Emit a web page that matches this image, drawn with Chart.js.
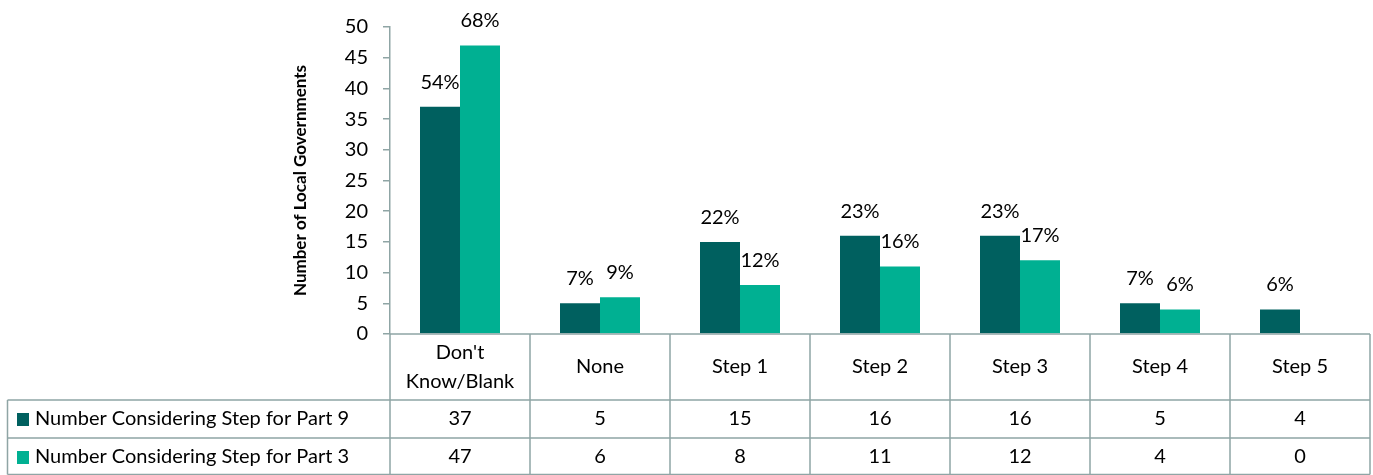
<!DOCTYPE html>
<html>
<head>
<meta charset="utf-8">
<script src="https://cdn.jsdelivr.net/npm/chart.js@4.4.0/dist/chart.umd.min.js"></script>
<style>
  html, body { margin: 0; padding: 0; background: #fff; }
  #wrap { width: 1373px; height: 475px; }
</style>
</head>
<body>
<div id="wrap"><canvas id="chart"></canvas></div>
<script>
const categories = [["Don't", "Know/Blank"], "None", "Step 1", "Step 2", "Step 3", "Step 4", "Step 5"];
const part9 = [37, 5, 15, 16, 16, 5, 4];
const part3 = [47, 6, 8, 11, 12, 4, 0];
const part9Pct = ['54%', '7%', '22%', '23%', '23%', '7%', '6%'];
const part3Pct = ['68%', '9%', '12%', '16%', '17%', '6%', ''];
const seriesNames = ['Number Considering Step for Part 9', 'Number Considering Step for Part 3'];
const colors = ['#00605f', '#00b092'];
const lineColor = '#8fa5a5';
const font = 'Lato, "Open Sans", sans-serif';

// percentages above bars
const pctLabels = {
  id: 'pctLabels',
  afterDatasetsDraw(chart) {
    const ctx = chart.ctx;
    ctx.save();
    ctx.font = '20px ' + font;
    ctx.fillStyle = '#000';
    ctx.textAlign = 'center';
    ctx.textBaseline = 'alphabetic';
    [part9Pct, part3Pct].forEach((pcts, d) => {
      chart.getDatasetMeta(d).data.forEach((bar, i) => {
        if (pcts[i]) ctx.fillText(pcts[i], bar.x, bar.y - 18);
      });
    });
    ctx.restore();
  }
};

// data table under the plot
const dataTable = {
  id: 'dataTable',
  afterDraw(chart) {
    const ctx = chart.ctx;
    const area = chart.chartArea;
    const xs = chart.scales.x;
    const n = categories.length;
    const step = (area.right - area.left) / n;
    const top = area.bottom, r1 = 400, r2 = 438, bot = 474.5;
    const left = 7.5;
    ctx.save();
    ctx.strokeStyle = lineColor;
    ctx.lineWidth = 1.5;
    ctx.beginPath();
    ctx.moveTo(area.left, top); ctx.lineTo(area.right, top);
    ctx.moveTo(left, r1); ctx.lineTo(area.right, r1);
    ctx.moveTo(left, r2); ctx.lineTo(area.right, r2);
    ctx.moveTo(left, bot); ctx.lineTo(area.right, bot);
    ctx.moveTo(left, r1); ctx.lineTo(left, bot);
    for (let i = 0; i <= n; i++) {
      const x = area.left + i * step;
      ctx.moveTo(x, top); ctx.lineTo(x, bot);
    }
    ctx.stroke();

    ctx.fillStyle = '#000';
    ctx.font = '20px ' + font;
    ctx.textAlign = 'center';
    ctx.textBaseline = 'middle';
    categories.forEach((c, i) => {
      const x = xs.getPixelForValue(i);
      if (Array.isArray(c)) {
        ctx.fillText(c[0], x, 353);
        ctx.fillText(c[1], x, 382);
      } else {
        ctx.fillText(c, x, 367);
      }
      ctx.fillText(String(part9[i]), x, 419);
      ctx.fillText(String(part3[i]), x, 457);
    });

    ctx.textAlign = 'left';
    [[419, 0], [457, 1]].forEach(([y, d]) => {
      ctx.fillStyle = colors[d];
      ctx.fillRect(17, y - 6, 12, 13);
      ctx.fillStyle = '#000';
      ctx.fillText(seriesNames[d], 35, y);
    });
    ctx.restore();
  }
};

new Chart(document.getElementById('chart'), {
  type: 'bar',
  data: {
    labels: categories,
    datasets: [
      { label: seriesNames[0], data: part9, backgroundColor: colors[0] },
      { label: seriesNames[1], data: part3, backgroundColor: colors[1] }
    ]
  },
  options: {
    responsive: true,
    maintainAspectRatio: false,
    animation: false,
    events: [],
    layout: { padding: { left: 286, right: 3, top: 16, bottom: 141 } },
    datasets: { bar: { categoryPercentage: 80 / 140, barPercentage: 1.0 } },
    plugins: { legend: { display: false }, tooltip: { enabled: false } },
    scales: {
      x: { display: false },
      y: {
        min: 0, max: 50,
        afterFit(scale) { scale.width = 104; },
        ticks: { stepSize: 5, color: '#000', padding: 15, font: { family: font, size: 20 } },
        grid: { drawOnChartArea: false, tickLength: 7, tickColor: lineColor, lineWidth: 1.5 },
        border: { color: lineColor, width: 1.5 },
        title: {
          display: true, text: 'Number of Local Governments', color: '#000',
          font: { family: font, size: 17, weight: 'bold' }
        }
      }
    }
  },
  plugins: [pctLabels, dataTable]
});
</script>
</body>
</html>
